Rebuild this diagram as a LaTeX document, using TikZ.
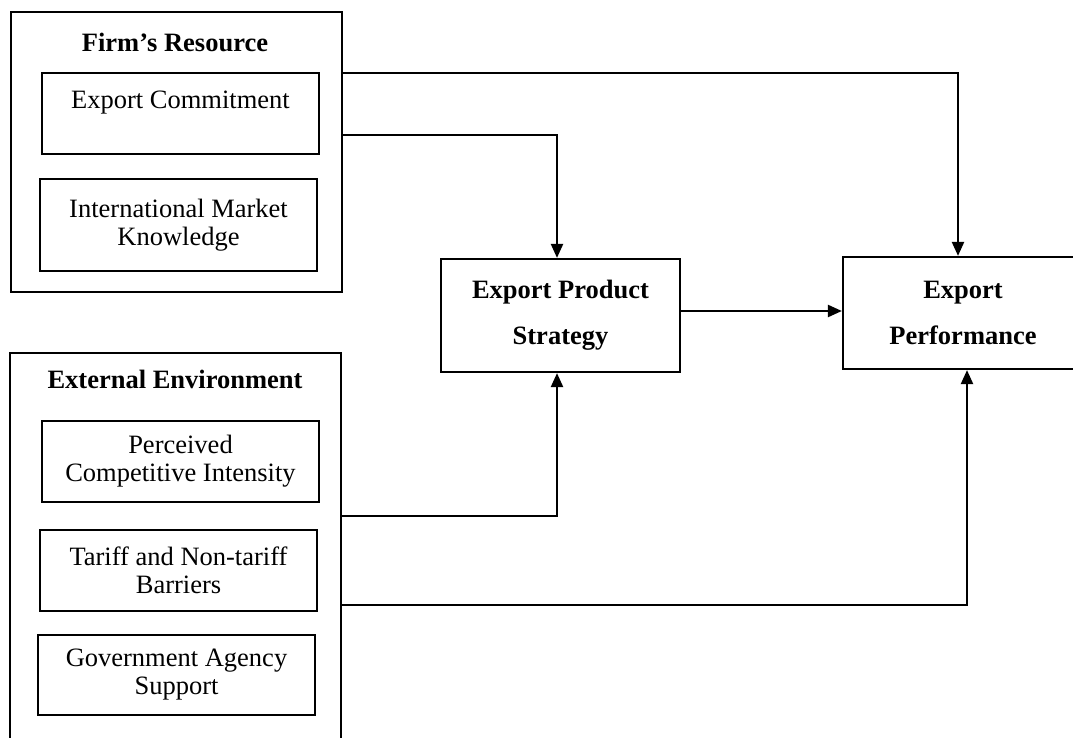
\documentclass[tikz,border=0pt]{standalone}
\usepackage{fontspec}
\setmainfont{Liberation Serif}
\usetikzlibrary{arrows.meta}
\begin{document}
\begin{tikzpicture}[x=1pt,y=-1pt,
  line width=2.2pt,
  group/.style={draw, rectangle, inner sep=0pt},
  item/.style={draw, rectangle, inner sep=0pt, align=center,
    minimum width=277pt, font=\fontsize{26.5}{28}\selectfont},
  core/.style={draw, rectangle, inner sep=0pt, align=center,
    font=\fontsize{26.5}{46}\selectfont\bfseries},
  title/.style={inner sep=0pt, font=\fontsize{26.5}{29}\selectfont\bfseries},
  arr/.style={-{Triangle[length=14pt,width=12pt]}}]
\useasboundingbox (0,0) rectangle (1073,738);
\clip (0,0) rectangle (1073,738);

% resource group
\node[group, minimum width=331pt, minimum height=280pt] (firm) at (176.5,152) {};
\node[title] (firmT) at (175,42) {Firm’s Resource};
\node[item, minimum height=81pt] (ec) at (180.5,113.5) {Export Commitment\\\mbox{}};
\node[item, minimum height=92pt] (imk) at (178.5,225) {International Market\\Knowledge};

% environment group
\node[group, minimum width=331pt, minimum height=397pt] (ext) at (175.5,551.5) {};
\node[title] (extT) at (175,379) {External Environment};
\node[item, minimum height=81pt] (pci) at (180.5,461.5) {Perceived\\Competitive Intensity};
\node[item, minimum height=81pt] (tnb) at (178.5,570.5) {Tariff and Non-tariff\\Barriers};
\node[item, minimum height=80pt] (gas) at (176.5,675) {Government Agency\\Support};

% strategy and outcome
\node[core, minimum width=239pt, minimum height=113pt] (eps) at (560.5,315.5) {Export Product\\Strategy};
\node[core, minimum width=240pt, minimum height=112pt] (ep) at (963,313) {Export\\Performance};

% connector routing points
\coordinate (f1) at (firm.east |- 0,73);
\coordinate (f2) at (firm.east |- 0,135);
\coordinate (e1) at (ext.east |- 0,516);
\coordinate (e2) at (ext.east |- 0,605);
\coordinate (epsTop) at (557,0 |- eps.north);
\coordinate (epsBot) at (557,0 |- eps.south);
\coordinate (epTop) at (958,0 |- ep.north);
\coordinate (epBot) at (967,0 |- ep.south);
\coordinate (s1) at (eps.east |- 0,311);
\coordinate (s2) at (ep.west |- 0,311);

\draw[arr] (f1) -| (epTop);
\draw[arr] (f2) -| (epsTop);
\draw[arr] (e1) -| (epsBot);
\draw[arr] (e2) -| (epBot);
\draw[arr] (s1) -- (s2);
\end{tikzpicture}
\end{document}
